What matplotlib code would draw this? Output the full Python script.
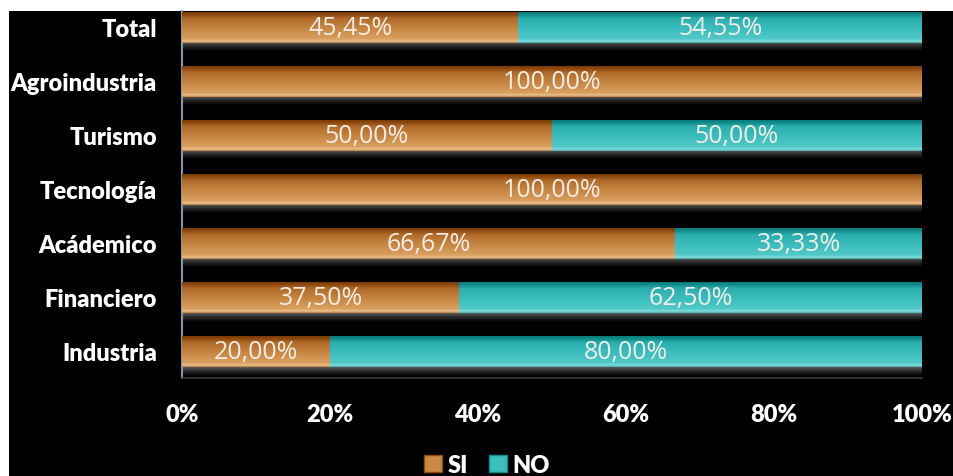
import matplotlib
matplotlib.use("Agg")
import matplotlib.pyplot as plt
import numpy as np
from matplotlib.patches import Rectangle, Patch
from matplotlib.colors import LinearSegmentedColormap

categories = ["Total", "Agroindustria", "Turismo", "Tecnología",
              "Acádemico", "Financiero", "Industria"]
si_values = [45.45, 100.00, 50.00, 100.00, 66.67, 37.50, 20.00]
no_values = [54.55, 0.00, 50.00, 0.00, 33.33, 62.50, 80.00]
series_names = ["SI", "NO"]
x_ticks = [0, 20, 40, 60, 80, 100]
x_tick_labels = ["0%", "20%", "40%", "60%", "80%", "100%"]

W, H = 954, 477
fig = plt.figure(figsize=(W / 100, H / 100), dpi=100)
fig.patch.set_facecolor("white")
# black panel behind the chart
fig.add_artist(Rectangle((9 / W, 0), 1 - 9 / W, (H - 12) / H,
                         transform=fig.transFigure, facecolor="black",
                         edgecolor="none", zorder=0))

ax = fig.add_axes([182 / W, (H - 379) / H, 740 / W, (379 - 12) / H])
ax.set_facecolor("none")

label_font = ["Lato", "DejaVu Sans"]
value_font = ["Open Sans", "DejaVu Sans"]
label_weight = "heavy"

orange_cmap = LinearSegmentedColormap.from_list(
    "orange_bevel",
    [(0.0, "#7a3a06"), (0.08, "#8f4a10"), (0.2, "#b06a2a"),
     (0.55, "#c98844"), (0.88, "#d9a060"), (0.94, "#ecc694"), (1.0, "#c08040")])
teal_cmap = LinearSegmentedColormap.from_list(
    "teal_bevel",
    [(0.0, "#0a7a7a"), (0.08, "#128c8c"), (0.2, "#2aaeae"),
     (0.55, "#3cbebe"), (0.88, "#52c8c8"), (0.94, "#88e0e0"), (1.0, "#40b0b0")])
shadow_cmap = LinearSegmentedColormap.from_list(
    "shadow", [(0.0, "#000000"), (0.6, "#2e2e2e"), (1.0, "#5a5a5a")])

n = len(categories)
y = np.arange(n)[::-1]
bar_h = 0.573

bars_si = ax.barh(y, si_values, height=bar_h, color="#c98844", zorder=2)
bars_no = ax.barh(y, no_values, left=si_values, height=bar_h,
                  color="#3cbebe", zorder=2)

grad = np.linspace(0, 1, 64).reshape(-1, 1)  # top -> bottom
for bars, cmap in ((bars_si, orange_cmap), (bars_no, teal_cmap)):
    for p in bars:
        if p.get_width() <= 0:
            continue
        x0, y0 = p.get_x(), p.get_y()
        ax.imshow(grad, cmap=cmap, aspect="auto", interpolation="bilinear",
                  extent=(x0, x0 + p.get_width(), y0, y0 + p.get_height()),
                  origin="upper", zorder=3)

# depth shading beneath each stacked bar and its right-hand side
for yi, s, nv in zip(y, si_values, no_values):
    total = s + nv
    ax.imshow(np.linspace(0, 1, 32).reshape(-1, 1), cmap=shadow_cmap,
              aspect="auto", interpolation="bilinear",
              extent=(0, total, yi - bar_h / 2 - 0.16, yi - bar_h / 2),
              origin="lower", zorder=1)
    ax.plot([total + 0.25, total + 0.25],
            [yi - bar_h / 2 - 0.14, yi + bar_h / 2 - 0.05],
            color="#8a8a8a", lw=1.2, zorder=1, solid_capstyle="butt")

# value labels centred in each segment
for bars, vals in ((bars_si, si_values), (bars_no, no_values)):
    for p, v in zip(bars, vals):
        if v <= 0:
            continue
        ax.text(p.get_x() + p.get_width() / 2, p.get_y() + p.get_height() / 2,
                f"{v:.2f}%".replace(".", ","), ha="center", va="center",
                color="#f3ede6", fontsize=18, family=value_font, zorder=5)

ax.set_xlim(0, 100)
ax.set_ylim(-0.49, n - 1 + 0.296)
ax.set_yticks(y)
ax.set_yticklabels(categories)
ax.set_xticks(x_ticks)
ax.set_xticklabels(x_tick_labels)
ax.tick_params(axis="both", length=0, colors="white")
for lbl in ax.get_yticklabels():
    lbl.set_fontfamily(label_font)
    lbl.set_fontweight(label_weight)
    lbl.set_fontsize(17)
    lbl.set_color("white")
ax.tick_params(axis="y", pad=18)
for lbl in ax.get_xticklabels():
    lbl.set_fontfamily(label_font)
    lbl.set_fontweight(label_weight)
    lbl.set_fontsize(17)
    lbl.set_color("white")
ax.tick_params(axis="x", pad=18)

for side in ("top", "right"):
    ax.spines[side].set_visible(False)
ax.spines["left"].set_color("#8a96a8")
ax.spines["left"].set_linewidth(1.5)
ax.spines["bottom"].set_color("#3a3a3a")
ax.spines["bottom"].set_linewidth(1.2)

handles = [Patch(facecolor="#c98844", edgecolor="#8f4a10", lw=1),
           Patch(facecolor="#3cbebe", edgecolor="#128c8c", lw=1)]
leg = fig.legend(handles, series_names, loc="upper center",
                 bbox_to_anchor=(487 / W, 1 - 455 / H), ncol=2, frameon=False,
                 handlelength=0.75, handleheight=0.75, handletextpad=0.25,
                 columnspacing=0.9, borderpad=0, borderaxespad=0,
                 prop={"family": label_font, "weight": label_weight, "size": 17})
for t in leg.get_texts():
    t.set_color("white")

fig.savefig("out.png", dpi=100, facecolor=fig.get_facecolor())
